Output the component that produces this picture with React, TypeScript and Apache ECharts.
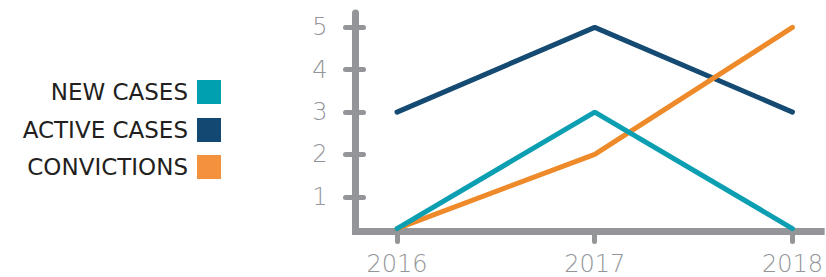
import React, { useEffect, useRef } from "react";
import * as echarts from "echarts";

const years = [2016, 2017, 2018];
const newCases = [0.25, 3, 0.25];
const activeCases = [3, 5, 3];
const convictions = [0.25, 2, 5];
const yTicks = [1, 2, 3, 4, 5];

const GRAY = "#939598";
const FONT = "DejaVu Sans";

export default function App() {
  const ref = useRef<HTMLDivElement>(null);
  useEffect(() => {
    const chart = echarts.init(ref.current!, undefined, { renderer: "svg" });
    const pair = (vals: number[]) => years.map((y, i) => [y, vals[i]]);
    const legendBase = {
      orient: "vertical",
      right: 605,
      padding: 0,
      itemWidth: 24,
      itemHeight: 24,
      icon: "rect",
      align: "right",
      itemGap: 6,
      selectedMode: false,
      textStyle: { color: "#231f20", fontSize: 23, fontFamily: FONT, padding: [0, 4, 0, 0] },
    };
    chart.setOption({
      animation: false,
      legend: [
        { ...legendBase, top: 80, data: ["NEW CASES"] },
        { ...legendBase, top: 118, data: ["ACTIVE CASES"] },
        { ...legendBase, top: 155, data: ["CONVICTIONS"] },
      ],
      grid: { left: 355.5, right: 0, top: 13, bottom: 45.5, containLabel: false },
      xAxis: {
        type: "value",
        min: 2015.79,
        max: 2018.145,
        splitLine: { show: false },
        axisLine: { show: true, lineStyle: { color: GRAY, width: 7, cap: "square" } },
        axisTick: {
          show: true,
          customValues: years,
          length: 10,
          lineStyle: { color: GRAY, width: 5, cap: "round" },
        },
        axisLabel: {
          customValues: years,
          color: GRAY,
          fontSize: 24,
          fontFamily: FONT,
          fontWeight: 200,
          margin: 20,
          formatter: (v: number) => String(v),
        },
      },
      yAxis: [
        {
          type: "value",
          min: 0.18,
          max: 5.34,
          splitLine: { show: false },
          axisLine: { show: true, lineStyle: { color: GRAY, width: 7, cap: "round" } },
          axisTick: {
            show: true,
            customValues: yTicks,
            length: 10,
            lineStyle: { color: GRAY, width: 5, cap: "round" },
          },
          axisLabel: {
            customValues: yTicks,
            color: GRAY,
            fontSize: 24,
            fontFamily: FONT,
            fontWeight: 200,
            margin: 28,
          },
        },
        {
          type: "value",
          position: "left",
          min: 0.18,
          max: 5.34,
          splitLine: { show: false },
          axisLine: { show: false },
          axisLabel: { show: false },
          axisTick: {
            show: true,
            inside: true,
            customValues: yTicks,
            length: 8,
            lineStyle: { color: GRAY, width: 5, cap: "round" },
          },
        },
      ],
      series: [
        {
          name: "ACTIVE CASES",
          type: "line",
          data: pair(activeCases),
          showSymbol: false,
          symbol: "none",
          color: "#134873",
          lineStyle: { width: 5, cap: "round", color: "#154a73" },
        },
        {
          name: "CONVICTIONS",
          type: "line",
          data: pair(convictions),
          showSymbol: false,
          symbol: "none",
          color: "#f4913d",
          lineStyle: { width: 5, cap: "round", color: "#ef8a2a" },
        },
        {
          name: "NEW CASES",
          type: "line",
          data: pair(newCases),
          showSymbol: false,
          symbol: "none",
          color: "#00a0b0",
          lineStyle: { width: 5, cap: "round", color: "#0c9fb1" },
        },
      ],
    });
    return () => chart.dispose();
  }, []);
  return (
    <div
      ref={ref}
      style={{ position: "fixed", left: 0, top: 0, width: 826, height: 277, background: "#fff" }}
    />
  );
}
